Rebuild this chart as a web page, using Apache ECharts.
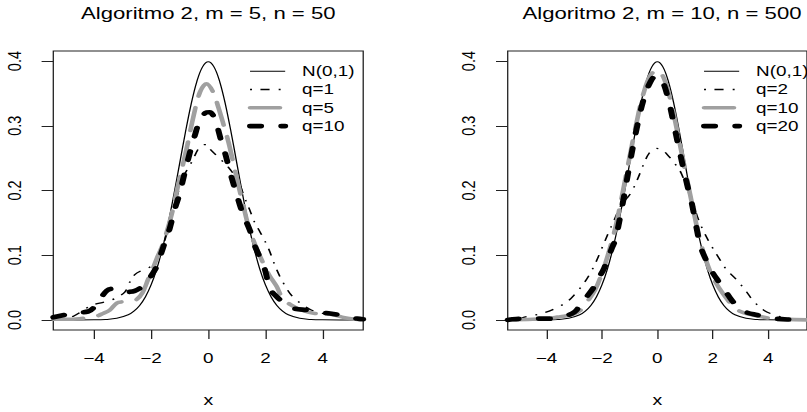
<!DOCTYPE html>
<html>
<head>
<meta charset="utf-8">
<script src="https://cdn.jsdelivr.net/npm/echarts@6/dist/echarts.min.js"></script>
<style>
html,body{margin:0;padding:0;background:#fff;overflow:hidden;width:807px;height:412px;}
#c{width:620px;height:412px;transform:scaleX(1.30161);transform-origin:0 0;}
</style>
</head>
<body>
<div id="c"></div>
<script>
// ---- tick labels ----
const xTicks = [-4, -2, 0, 2, 4];
const yTicks = [0, 0.1, 0.2, 0.3, 0.4];
const titles = ['Algoritmo 2, m = 5, n = 50', 'Algoritmo 2, m = 10, n = 500'];
const leftNames = ['N(0,1)', 'q=1', 'q=5', 'q=10'];
const rightNames = ['N(0,1)', 'q=2', 'q=10', 'q=20'];

// ---- N(0,1) density (both panels) ----
const normX = [-5.42, -4.6, -4.0, -3.6, -3.2, -2.8, -2.6, -2.4, -2.2, -2.0, -1.8, -1.6, -1.4, -1.2, -1.0, -0.8, -0.6, -0.4, -0.2, 0, 0.2, 0.4, 0.6, 0.8, 1.0, 1.2, 1.4, 1.6, 1.8, 2.0, 2.2, 2.4, 2.6, 2.8, 3.2, 3.6, 4.0, 4.6, 5.42];
const normY = [0.0000, 0.0000, 0.0001, 0.0006, 0.0024, 0.0079, 0.0136, 0.0224, 0.0355, 0.0540, 0.0790, 0.1109, 0.1497, 0.1942, 0.2420, 0.2897, 0.3332, 0.3683, 0.3910, 0.3989, 0.3910, 0.3683, 0.3332, 0.2897, 0.2420, 0.1942, 0.1497, 0.1109, 0.0790, 0.0540, 0.0355, 0.0224, 0.0136, 0.0079, 0.0024, 0.0006, 0.0001, 0.0000, 0.0000];

// ---- left panel: m=5, n=50 ----
const lq1X = [-5.1, -4.7, -4.1, -3.6, -3.27, -2.92, -2.75, -2.57, -2.3, -2.0, -1.7, -1.5, -1.2, -0.9, -0.58, -0.23, -0.05, 0.06, 0.41, 0.70, 1.05, 1.28, 1.45, 1.63, 1.81, 2.10, 2.39, 2.68, 2.97, 3.32, 3.62, 4.0, 4.5, 5.0, 5.42];
const lq1Y = [0.000, 0.006, 0.022, 0.028, 0.033, 0.043, 0.058, 0.070, 0.077, 0.083, 0.103, 0.126, 0.173, 0.218, 0.244, 0.270, 0.271, 0.264, 0.249, 0.236, 0.214, 0.188, 0.170, 0.150, 0.136, 0.111, 0.078, 0.053, 0.035, 0.023, 0.015, 0.010, 0.007, 0.003, 0.001];

const lq5X = [-5.42, -4.8, -4.3, -3.9, -3.68, -3.45, -3.2, -3.0, -2.7, -2.52, -2.3, -2.1, -1.99, -1.8, -1.58, -1.28, -1.05, -0.76, -0.52, -0.29, -0.06, 0.17, 0.35, 0.52, 0.70, 0.85, 1.05, 1.22, 1.40, 1.65, 1.92, 2.15, 2.39, 2.57, 2.86, 3.27, 3.73, 4.31, 4.78, 5.42];
const lq5Y = [0.001, 0.001, 0.003, 0.006, 0.010, 0.015, 0.026, 0.028, 0.029, 0.031, 0.042, 0.063, 0.073, 0.095, 0.118, 0.163, 0.209, 0.264, 0.314, 0.352, 0.365, 0.352, 0.329, 0.304, 0.276, 0.248, 0.209, 0.178, 0.146, 0.115, 0.088, 0.068, 0.052, 0.036, 0.024, 0.015, 0.010, 0.0085, 0.0035, 0.000];

const lq10X = [-5.42, -5.0, -4.78, -4.2, -3.95, -3.74, -3.55, -3.39, -3.2, -3.0, -2.8, -2.57, -2.35, -2.17, -2.0, -1.82, -1.70, -1.47, -1.35, -1.16, -1.0, -0.87, -0.64, -0.47, -0.32, -0.1, 0.05, 0.23, 0.47, 0.58, 0.76, 0.87, 1.11, 1.22, 1.46, 1.57, 1.81, 1.98, 2.16, 2.39, 2.6, 2.97, 3.50, 4.0, 4.26, 4.78, 5.2, 5.42];
const lq10Y = [0.004, 0.008, 0.011, 0.013, 0.022, 0.035, 0.045, 0.048, 0.045, 0.042, 0.043, 0.045, 0.050, 0.056, 0.068, 0.081, 0.096, 0.126, 0.141, 0.173, 0.195, 0.219, 0.259, 0.285, 0.305, 0.320, 0.321, 0.310, 0.274, 0.259, 0.229, 0.212, 0.177, 0.163, 0.138, 0.121, 0.096, 0.078, 0.048, 0.036, 0.028, 0.018, 0.015, 0.011, 0.010, 0.006, 0.002, 0.001];

// ---- right panel: m=10, n=500 ----
const rq2X = [-5.40, -5.24, -4.72, -4.08, -3.67, -3.26, -2.97, -2.68, -2.45, -2.21, -1.98, -1.75, -1.57, -1.33, -1.1, -0.93, -0.70, -0.50, -0.29, -0.05, 0.15, 0.35, 0.64, 0.87, 1.11, 1.24, 1.44, 1.68, 1.97, 2.26, 2.49, 2.84, 3.19, 3.49, 3.84, 4.24, 4.71, 5.40];
const rq2Y = [0.000, 0.000, 0.005, 0.011, 0.018, 0.028, 0.040, 0.055, 0.070, 0.090, 0.113, 0.136, 0.153, 0.176, 0.188, 0.198, 0.219, 0.240, 0.258, 0.265, 0.263, 0.256, 0.241, 0.226, 0.198, 0.188, 0.160, 0.136, 0.113, 0.093, 0.078, 0.063, 0.045, 0.028, 0.015, 0.0075, 0.0025, 0.000];

const rq10X = [-5.40, -4.5, -4.0, -3.5, -3.09, -2.8, -2.5, -2.25, -2.0, -1.75, -1.5, -1.25, -1.0, -0.75, -0.5, -0.25, 0.0, 0.25, 0.5, 0.75, 1.0, 1.25, 1.5, 1.75, 2.0, 2.25, 2.5, 2.75, 3.0, 3.3, 3.67, 4.2, 5.40];
const rq10Y = [0.000, 0.001, 0.002, 0.005, 0.008, 0.014, 0.030, 0.046, 0.072, 0.105, 0.145, 0.197, 0.252, 0.305, 0.350, 0.378, 0.386, 0.372, 0.335, 0.285, 0.232, 0.180, 0.130, 0.093, 0.066, 0.048, 0.033, 0.020, 0.013, 0.009, 0.0055, 0.002, 0.000];

const rq20X = [-5.40, -5.24, -4.72, -3.9, -3.4, -3.0, -2.8, -2.6, -2.3, -2.1, -1.92, -1.64, -1.51, -1.25, -0.98, -0.75, -0.5, -0.25, -0.05, 0.15, 0.4, 0.65, 0.83, 1.12, 1.24, 1.5, 1.62, 1.97, 2.2, 2.61, 2.84, 3.2, 3.6, 4.13, 4.8, 5.40];
const rq20Y = [0.000, 0.001, 0.002, 0.002, 0.005, 0.012, 0.022, 0.033, 0.050, 0.066, 0.080, 0.111, 0.125, 0.180, 0.245, 0.295, 0.340, 0.368, 0.377, 0.372, 0.340, 0.291, 0.255, 0.201, 0.181, 0.124, 0.106, 0.075, 0.060, 0.035, 0.023, 0.012, 0.0075, 0.0025, 0.0005, 0.000];

// ---- build ----
const zip = (xs, ys) => xs.map((x, i) => [x, ys[i]]);
const FONT = '"Liberation Sans", Arial, sans-serif';
const BLACK = '#000000';
const GRAY = '#a0a0a0';
const NONE = 'rgba(0,0,0,0)';
const styles = [
  { color: BLACK, width: 1, type: 'solid', cap: 'butt' },
  { color: BLACK, width: 1.3, type: [1.5, 6.5, 7, 7], cap: 'butt' },
  { color: GRAY, width: 3.6, type: [23, 12], cap: 'round' },
  { color: BLACK, width: 4.6, type: [8.5, 15.5], cap: 'round' }
];
const grids = [
  { left: 40.95, top: 51, width: 238.1, height: 286 },
  { left: 390.06, top: 51, width: 237.3, height: 286 }
];
const xRanges = [[-5.42, 5.42], [-5.40, 5.40]];
const panels = [
  { names: leftNames, data: [zip(normX, normY), zip(lq1X, lq1Y), zip(lq5X, lq5Y), zip(lq10X, lq10Y)], suffix: '' },
  { names: rightNames, data: [zip(normX, normY), zip(rq2X, rq2Y), zip(rq10X, rq10Y), zip(rq20X, rq20Y)], suffix: ' [B]' }
];
const legendLefts = [189.8, 538.6];
const titleX = [160.0, 508.6];

const series = [], xAxis = [], yAxis = [], legend = [], graphic = [];
panels.forEach((p, gi) => {
  xAxis.push({
    gridIndex: gi, type: 'value', min: xRanges[gi][0], max: xRanges[gi][1],
    axisLine: { show: false, onZero: false },
    axisTick: { show: true, inside: false, length: 9, customValues: xTicks, lineStyle: { color: '#222', width: 1 } },
    axisLabel: { show: true, customValues: xTicks, margin: 21, fontSize: 14.5, fontFamily: FONT, color: '#000',
      formatter: v => String(v).replace('-', '\u2212') },
    splitLine: { show: false },
    name: 'x', nameLocation: 'middle', nameGap: 62,
    nameTextStyle: { fontSize: 15, fontFamily: FONT, color: '#000' }
  });
  yAxis.push({
    gridIndex: gi, type: 'value', min: -0.0156, max: 0.4156,
    axisLine: { show: false, onZero: false },
    axisTick: { show: true, inside: false, length: 9, customValues: yTicks, lineStyle: { color: '#222', width: 1 } },
    axisLabel: { show: true, customValues: yTicks, rotate: 90, margin: 22, fontSize: 14.5, fontFamily: FONT, color: '#000',
      formatter: v => Number(v).toFixed(1) },
    splitLine: { show: false }
  });
  const legendData = [];
  p.names.forEach((nm, si) => {
    const full = nm + p.suffix;
    series.push({
      type: 'line', name: full, xAxisIndex: gi, yAxisIndex: gi,
      data: p.data[si], showSymbol: false, symbol: 'none', smooth: 0.35,
      lineStyle: { color: styles[si].color, width: styles[si].width, type: styles[si].type, cap: styles[si].cap, join: 'round' },
      itemStyle: { color: styles[si].color },
      emphasis: { disabled: true }, silent: true, z: 2 + si
    });
    legendData.push({ name: full, lineStyle: { width: styles[si].width },
      itemStyle: { color: NONE, borderColor: NONE, borderWidth: 0, opacity: 0 } });
  });
  legend.push({
    orient: 'vertical', left: legendLefts[gi], top: 63.7, padding: 0,
    itemWidth: 27, itemHeight: 14, itemGap: 3.3, selectedMode: false,
    itemStyle: { color: NONE, borderColor: NONE, borderWidth: 0, opacity: 0 },
    textStyle: { fontSize: 14.5, fontFamily: FONT, color: '#000', padding: [0, 0, 0, 8], lineHeight: 14.5 },
    formatter: n => n.replace(' [B]', ''),
    data: legendData
  });
  graphic.push({
    type: 'text', x: titleX[gi], y: 13,
    style: { text: titles[gi], fontSize: 17, fontFamily: FONT, fill: '#000', align: 'center', verticalAlign: 'middle' }
  });
});

const chart = echarts.init(document.getElementById('c'), null, { renderer: 'svg', width: 620, height: 412 });
chart.setOption({
  animation: false,
  backgroundColor: '#fff',
  grid: grids.map(g => Object.assign({ show: true, borderColor: '#222', borderWidth: 1, backgroundColor: 'transparent' }, g)),
  xAxis, yAxis, series, legend, graphic
});
</script>
</body>
</html>
